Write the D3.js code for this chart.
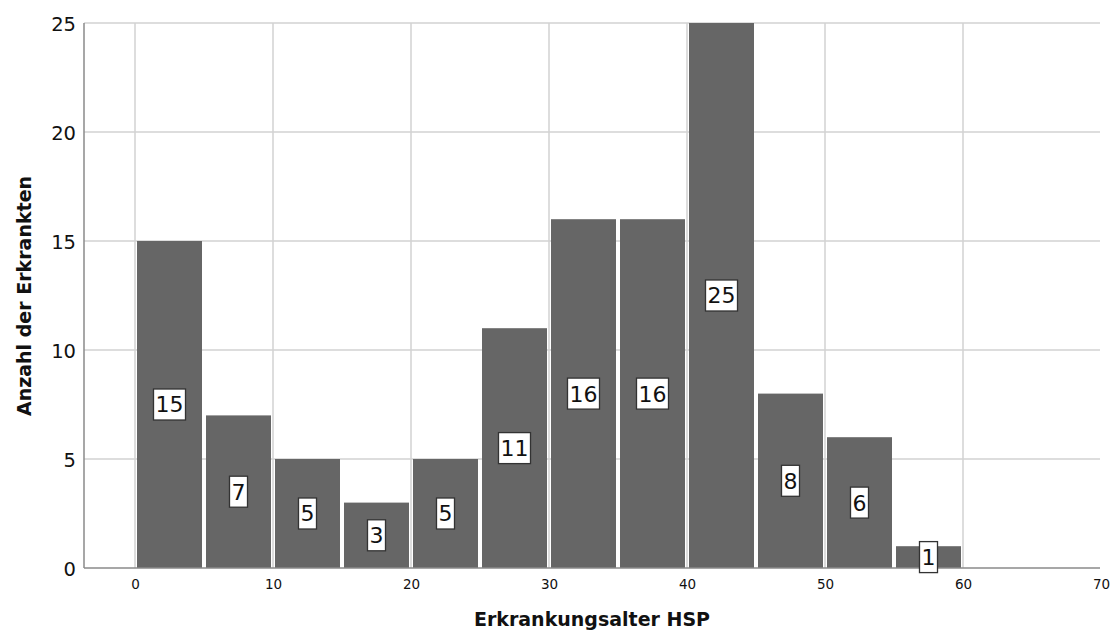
<!DOCTYPE html>
<html><head><meta charset="utf-8">
<script src="https://cdn.jsdelivr.net/npm/d3@7"></script>
<style>
html,body{margin:0;padding:0;background:#fff;}
svg{display:block;font-family:"DejaVu Sans",sans-serif;}
</style></head>
<body>
<svg id="chart" width="1110" height="632"></svg>
<script>
const binStarts = [0,5,10,15,20,25,30,35,40,45,50,55];
const binWidth = 5;
const counts = [15,7,5,3,5,11,16,16,25,8,6,1];
const xTicks = [0,10,20,30,40,50,60,70];
const yTicks = [0,5,10,15,20,25];
const xTitle = "Erkrankungsalter HSP";
const yTitle = "Anzahl der Erkrankten";

const svg = d3.select("#chart");
const plotLeft = 84, plotRight = 1100, plotTop = 23, plotBottom = 568;
const x = d3.scaleLinear().domain([0,70]).range([135,1101]);
const y = d3.scaleLinear().domain([0,25]).range([plotBottom, plotTop]);

// horizontal grid
svg.append("g").selectAll("line").data(yTicks.filter(d=>d>0)).join("line")
  .attr("x1",plotLeft).attr("x2",plotRight)
  .attr("y1",d=>y(d)).attr("y2",d=>y(d))
  .attr("stroke","#d2d2d2").attr("stroke-width",1.5);
// vertical grid
svg.append("g").selectAll("line").data(xTicks.filter(d=>d<70)).join("line")
  .attr("x1",d=>x(d)).attr("x2",d=>x(d))
  .attr("y1",plotTop).attr("y2",plotBottom)
  .attr("stroke","#d2d2d2").attr("stroke-width",1.5);

// bars
const bins = binStarts.map((s,i)=>({x0:s,x1:s+binWidth,v:counts[i]}));
svg.append("g").selectAll("rect").data(bins).join("rect")
  .attr("x",d=>x(d.x0)+2).attr("width",d=>x(d.x1)-x(d.x0)-4)
  .attr("y",d=>y(d.v)).attr("height",d=>y(0)-y(d.v))
  .attr("fill","#666666");

// axes lines
svg.append("line").attr("x1",plotLeft).attr("x2",plotLeft).attr("y1",plotTop).attr("y2",plotBottom)
  .attr("stroke","#8a8a8a").attr("stroke-width",1.5);
svg.append("line").attr("x1",plotLeft).attr("x2",plotRight).attr("y1",plotBottom).attr("y2",plotBottom)
  .attr("stroke","#8a8a8a").attr("stroke-width",1.5);

// y tick labels
const yAxis = d3.axisLeft(y).tickValues(yTicks).tickSize(0).tickPadding(0);
const gy = svg.append("g").attr("transform",`translate(76,0)`).call(yAxis);
gy.select(".domain").remove();
gy.selectAll("text").attr("font-size",19.5).attr("fill","#111").attr("font-family","DejaVu Sans").attr("dy","0.36em");

// x tick labels
const xAxis = d3.axisBottom(x).tickValues(xTicks).tickSize(0).tickPadding(0);
const gx = svg.append("g").attr("transform",`translate(0,579)`).call(xAxis);
gx.select(".domain").remove();
gx.selectAll("text").attr("font-size",13.5).attr("fill","#111").attr("font-family","DejaVu Sans");

// value labels
const lab = svg.append("g").selectAll("g").data(bins).join("g")
  .attr("transform",d=>`translate(${(x(d.x0)+x(d.x1))/2},${y(d.v/2)})`);
lab.append("rect").attr("class","box");
lab.append("text").text(d=>d.v).attr("text-anchor","middle").attr("dy","0.36em")
  .attr("font-size",22).attr("fill","#111");
lab.each(function(){
  const g = d3.select(this);
  const w = g.select("text").node().getComputedTextLength();
  g.select("rect").attr("x",-w/2-2).attr("width",w+4).attr("y",-15.5).attr("height",31)
   .attr("fill","#fff").attr("stroke","#333").attr("stroke-width",1.3);
});

// titles
svg.append("text").attr("x",592).attr("y",626).attr("text-anchor","middle")
  .attr("font-size",19).attr("font-weight","bold").attr("fill","#111").text(xTitle);
svg.append("text").attr("transform","translate(31,296) rotate(-90)").attr("text-anchor","middle")
  .attr("font-size",19).attr("font-weight","bold").attr("fill","#111").text(yTitle);
</script>
</body></html>
